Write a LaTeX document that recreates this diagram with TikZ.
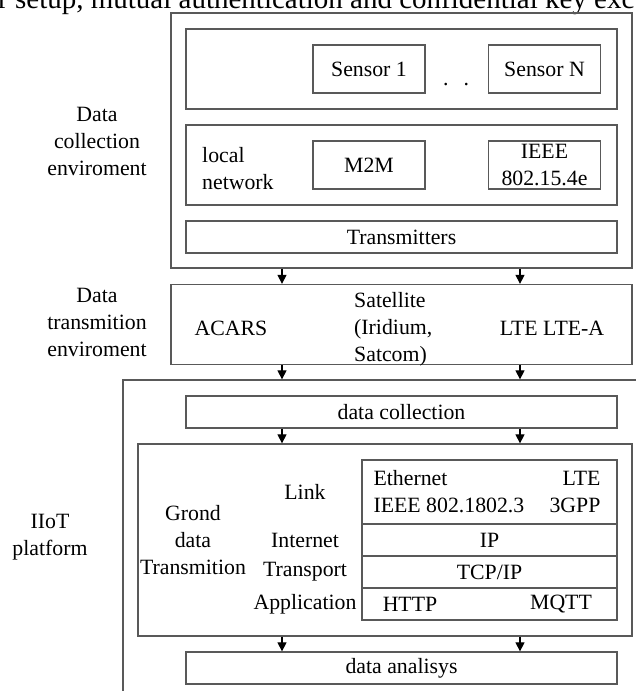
\documentclass[tikz,border=0pt]{standalone}
\usepackage{fontspec}
\setmainfont{Liberation Serif}
\usetikzlibrary{arrows.meta}

\begin{document}
\begin{tikzpicture}[x=1pt, y=-1pt,
    every node/.style={inner sep=0pt, font=\fontsize{21.8}{27}\selectfont},
    box/.style={draw=black!65, line width=1.3pt},
    arr/.style={-{Triangle[length=9pt, width=9pt]}, line width=1.2pt}]

    \useasboundingbox (0,0) rectangle (636,691);
    \clip (0,0) rectangle (636,691);

    % Caption line, cut off at the top
    \node[anchor=base west, font=\fontsize{29}{35}\selectfont] (caption) at (-2,8)
        {r setup, mutual authentication and confidential key exc};

    % Data collection enviroment
    \node[box, minimum width=461, minimum height=255] (collect) at (401.5,140.5) {};
    \node[align=center] (collectlbl) at (97,141) {Data\\collection\\enviroment};
    \node[box, minimum width=431, minimum height=80] (sensors) at (401.5,69) {};
    \node[box, minimum width=112, minimum height=48] (sensor1) at (369,69) {Sensor 1};
    \node[box, minimum width=112, minimum height=48] (sensorN) at (544.5,69) {Sensor N};
    \node[anchor=base] (dots) at (456,85) {.\hspace{15pt}.};
    \node[box, minimum width=431, minimum height=80] (local) at (401.5,165) {};
    \node[anchor=west, align=left] (locallbl) at (202,169) {local\\network};
    \node[box, minimum width=112, minimum height=48] (m2m) at (369,165) {M2M};
    \node[box, minimum width=112, minimum height=48, align=center] (ieee) at (544.5,165) {IEEE\\802.15.4e};
    \node[box, minimum width=431, minimum height=32] (transmitters) at (401.5,237) {Transmitters};

    % Data transmition enviroment
    \node[box, minimum width=461, minimum height=80] (trans) at (401.5,324.5) {};
    \node[align=center] (translbl) at (97,322) {Data\\transmition\\enviroment};
    \node (acars) at (231,328) {ACARS};
    \node[anchor=west, align=left] (sat) at (354,329) {Satellite\\(Iridium,\\Satcom)};
    \node (lte) at (552,328) {LTE LTE-A};

    % IIoT platform, runs out of the picture on the right and at the bottom
    \node[box, minimum width=577, minimum height=380] (iiot) at (411.5,570) {};
    \node[align=center] (iiotlbl) at (50,537) {IIoT\\platform};
    \node[box, minimum width=431, minimum height=32] (dcoll) at (401.5,412) {data collection};
    \node[box, minimum width=494, minimum height=192] (grond) at (385,540) {};
    \node[align=center] (grondlbl) at (193,540) {Grond\\data\\Transmition};

    % Protocol stack
    \node[box, minimum width=255, minimum height=64] (link) at (489.5,492) {};
    \node[box, minimum width=255, minimum height=32] (ip) at (489.5,540) {IP};
    \node[box, minimum width=255, minimum height=32] (tcp) at (489.5,572) {TCP/IP};
    \node[box, minimum width=255, minimum height=32] (app) at (489.5,604) {};
    \node[anchor=west, align=left] (eth) at ([xshift=12]link.west) {Ethernet\\IEEE 802.1802.3};
    \node[anchor=east, align=right] (lte3gpp) at ([xshift=-17]link.east) {LTE\\3GPP};
    \node (http) at (410,604) {HTTP};
    \node (mqtt) at (561,604) {MQTT};
    \foreach \n/\t/\y in {linklbl/Link/492, iplbl/Internet/540, tcplbl/Transport/572, applbl/Application/604}
        \node (\n) at (305,\y) {\t};

    \node[box, minimum width=431, minimum height=32] (analysis) at (401.5,668) {data analisys};

    % Arrows between the layers
    \coordinate (la) at (282,0);
    \coordinate (ra) at (520,0);
    \foreach \a/\b in {collect/trans, trans/iiot, dcoll/grond, grond/analysis} {
        \draw[arr] (\a.south -| la) -- (\b.north -| la);
        \draw[arr] (\a.south -| ra) -- (\b.north -| ra);
    }

\end{tikzpicture}
\end{document}
